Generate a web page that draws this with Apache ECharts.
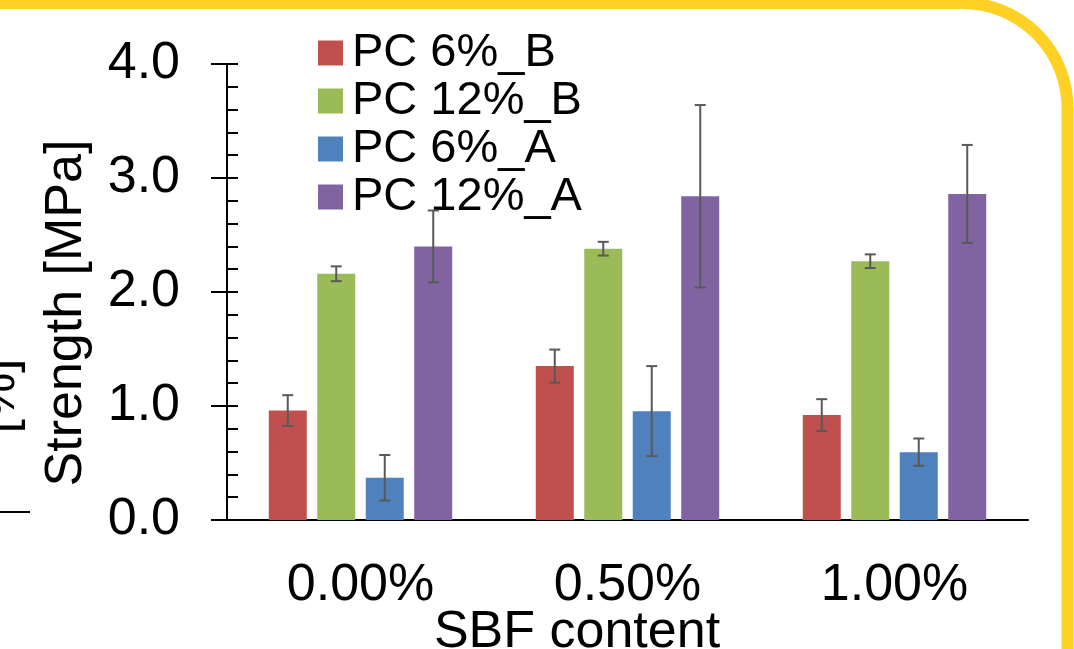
<!DOCTYPE html>
<html>
<head>
<meta charset="utf-8">
<script src="https://cdn.jsdelivr.net/npm/echarts@6/dist/echarts.min.js"></script>
<style>
html,body{margin:0;padding:0;background:#fff;}
#chart{width:1074px;height:649px;}
</style>
</head>
<body>
<div id="chart"></div>
<script>
// ---- data ----
const categories = ['0.00%', '0.50%', '1.00%'];
const seriesNames = ['PC 6%_B', 'PC 12%_B', 'PC 6%_A', 'PC 12%_A'];
const pc6B = [0.96, 1.35, 0.92];
const pc6BErr = [0.135, 0.145, 0.14];
const pc12B = [2.16, 2.38, 2.27];
const pc12BErr = [0.065, 0.06, 0.06];
const pc6A = [0.37, 0.955, 0.595];
const pc6AErr = [0.2, 0.395, 0.12];
const pc12A = [2.40, 2.84, 2.86];
const pc12AErr = [0.315, 0.80, 0.43];
const yTicks = ['0.0', '1.0', '2.0', '3.0', '4.0'];

const values = [pc6B, pc12B, pc6A, pc12A];
const errors = [pc6BErr, pc12BErr, pc6AErr, pc12AErr];
const colors = ['#C0504D', '#9BBB59', '#4F81BD', '#8064A2'];

const FONT = 'Liberation Sans';
const BAR_W = 38;
const BAR_GAP = 10.5;

const chart = echarts.init(document.getElementById('chart'));

const barSeries = values.map((vals, i) => ({
  name: seriesNames[i],
  type: 'bar',
  data: vals,
  barWidth: BAR_W,
  barGap: (BAR_GAP / BAR_W * 100).toFixed(1) + '%',
  itemStyle: { color: colors[i] },
  emphasis: { disabled: true },
  z: 2
}));

const errSeries = values.map((vals, i) => ({
  name: seriesNames[i] + ' err',
  type: 'custom',
  data: vals.map((v, k) => [k, v, errors[i][k]]),
  z: 5,
  silent: true,
  renderItem: function (params, api) {
    const k = api.value(0), v = api.value(1), e = api.value(2);
    const off = (i - 1.5) * (BAR_W + BAR_GAP);
    const hi = api.coord([k, v + e]);
    const lo = api.coord([k, v - e]);
    const cx = hi[0] + off;
    const st = { stroke: '#595959', lineWidth: 2 };
    return {
      type: 'group',
      children: [
        { type: 'line', shape: { x1: cx, y1: hi[1], x2: cx, y2: lo[1] }, style: st },
        { type: 'line', shape: { x1: cx - 5.5, y1: hi[1], x2: cx + 5.5, y2: hi[1] }, style: st },
        { type: 'line', shape: { x1: cx - 5.5, y1: lo[1], x2: cx + 5.5, y2: lo[1] }, style: st }
      ]
    };
  }
}));

const option = {
  backgroundColor: '#ffffff',
  animation: false,
  grid: { left: 227, right: 46, top: 64, bottom: 129, containLabel: false, outerBoundsMode: 'none' },
  legend: {
    data: seriesNames,
    orient: 'vertical',
    left: 313,
    top: 24,
    itemWidth: 25,
    itemHeight: 25,
    itemGap: 0,
    icon: 'rect',
    selectedMode: false,
    textStyle: { fontFamily: FONT, fontSize: 47, color: '#000', lineHeight: 48, padding: [0, 0, 0, 4] }
  },
  xAxis: {
    type: 'category',
    data: categories,
    name: 'SBF content',
    nameLocation: 'middle',
    nameGap: 87,
    nameMoveOverlap: false,
    nameTextStyle: { fontFamily: FONT, fontSize: 52, color: '#000', padding: [0, 101, 0, 0] },
    axisLine: { show: true, lineStyle: { color: '#000', width: 2 } },
    axisTick: { show: false },
    axisLabel: { fontFamily: FONT, fontSize: 52, color: '#000', margin: 40 },
    splitLine: { show: false }
  },
  yAxis: [
    {
      type: 'value',
      min: 0, max: 4, interval: 1,
      name: 'Strength [MPa]',
      nameLocation: 'middle',
      nameGap: 134,
      nameMoveOverlap: false,
      nameTextStyle: { fontFamily: FONT, fontSize: 52, color: '#000', padding: [0, 42, 0, 0] },
      axisLine: { show: true, lineStyle: { color: '#000', width: 2 } },
      axisTick: { show: true, inside: true, length: 11, lineStyle: { color: '#000', width: 2 } },
      minorTick: { show: true, splitNumber: 5, length: 11, lineStyle: { color: '#000', width: 2 } },
      axisLabel: { fontFamily: FONT, fontSize: 52, color: '#000', margin: 47,
        formatter: function (v) { return yTicks[Math.round(v)]; } },
      splitLine: { show: false }
    },
    {
      type: 'value',
      min: 0, max: 4, interval: 1,
      position: 'left',
      axisLine: { show: false },
      axisTick: { show: true, inside: false, length: 16, lineStyle: { color: '#000', width: 2 } },
      axisLabel: { show: false },
      splitLine: { show: false }
    }
  ],
  series: barSeries.concat(errSeries),
  graphic: [
    {
      type: 'text',
      x: 26, y: 396,
      rotation: Math.PI / 2,
      style: { text: '[%]', font: '52px "Liberation Sans"', fill: '#000', align: 'center', verticalAlign: 'bottom' },
      z: 10
    },
    {
      type: 'line',
      shape: { x1: 0, y1: 512, x2: 30, y2: 512 },
      style: { stroke: '#000', lineWidth: 2 },
      z: 10
    },
    {
      type: 'rect',
      shape: { x: -300, y: 3, width: 1367.5, height: 900, r: 105 },
      style: { fill: 'none', stroke: '#FFD124', lineWidth: 12 },
      z: 20
    }
  ]
};

chart.setOption(option);
</script>
</body>
</html>
